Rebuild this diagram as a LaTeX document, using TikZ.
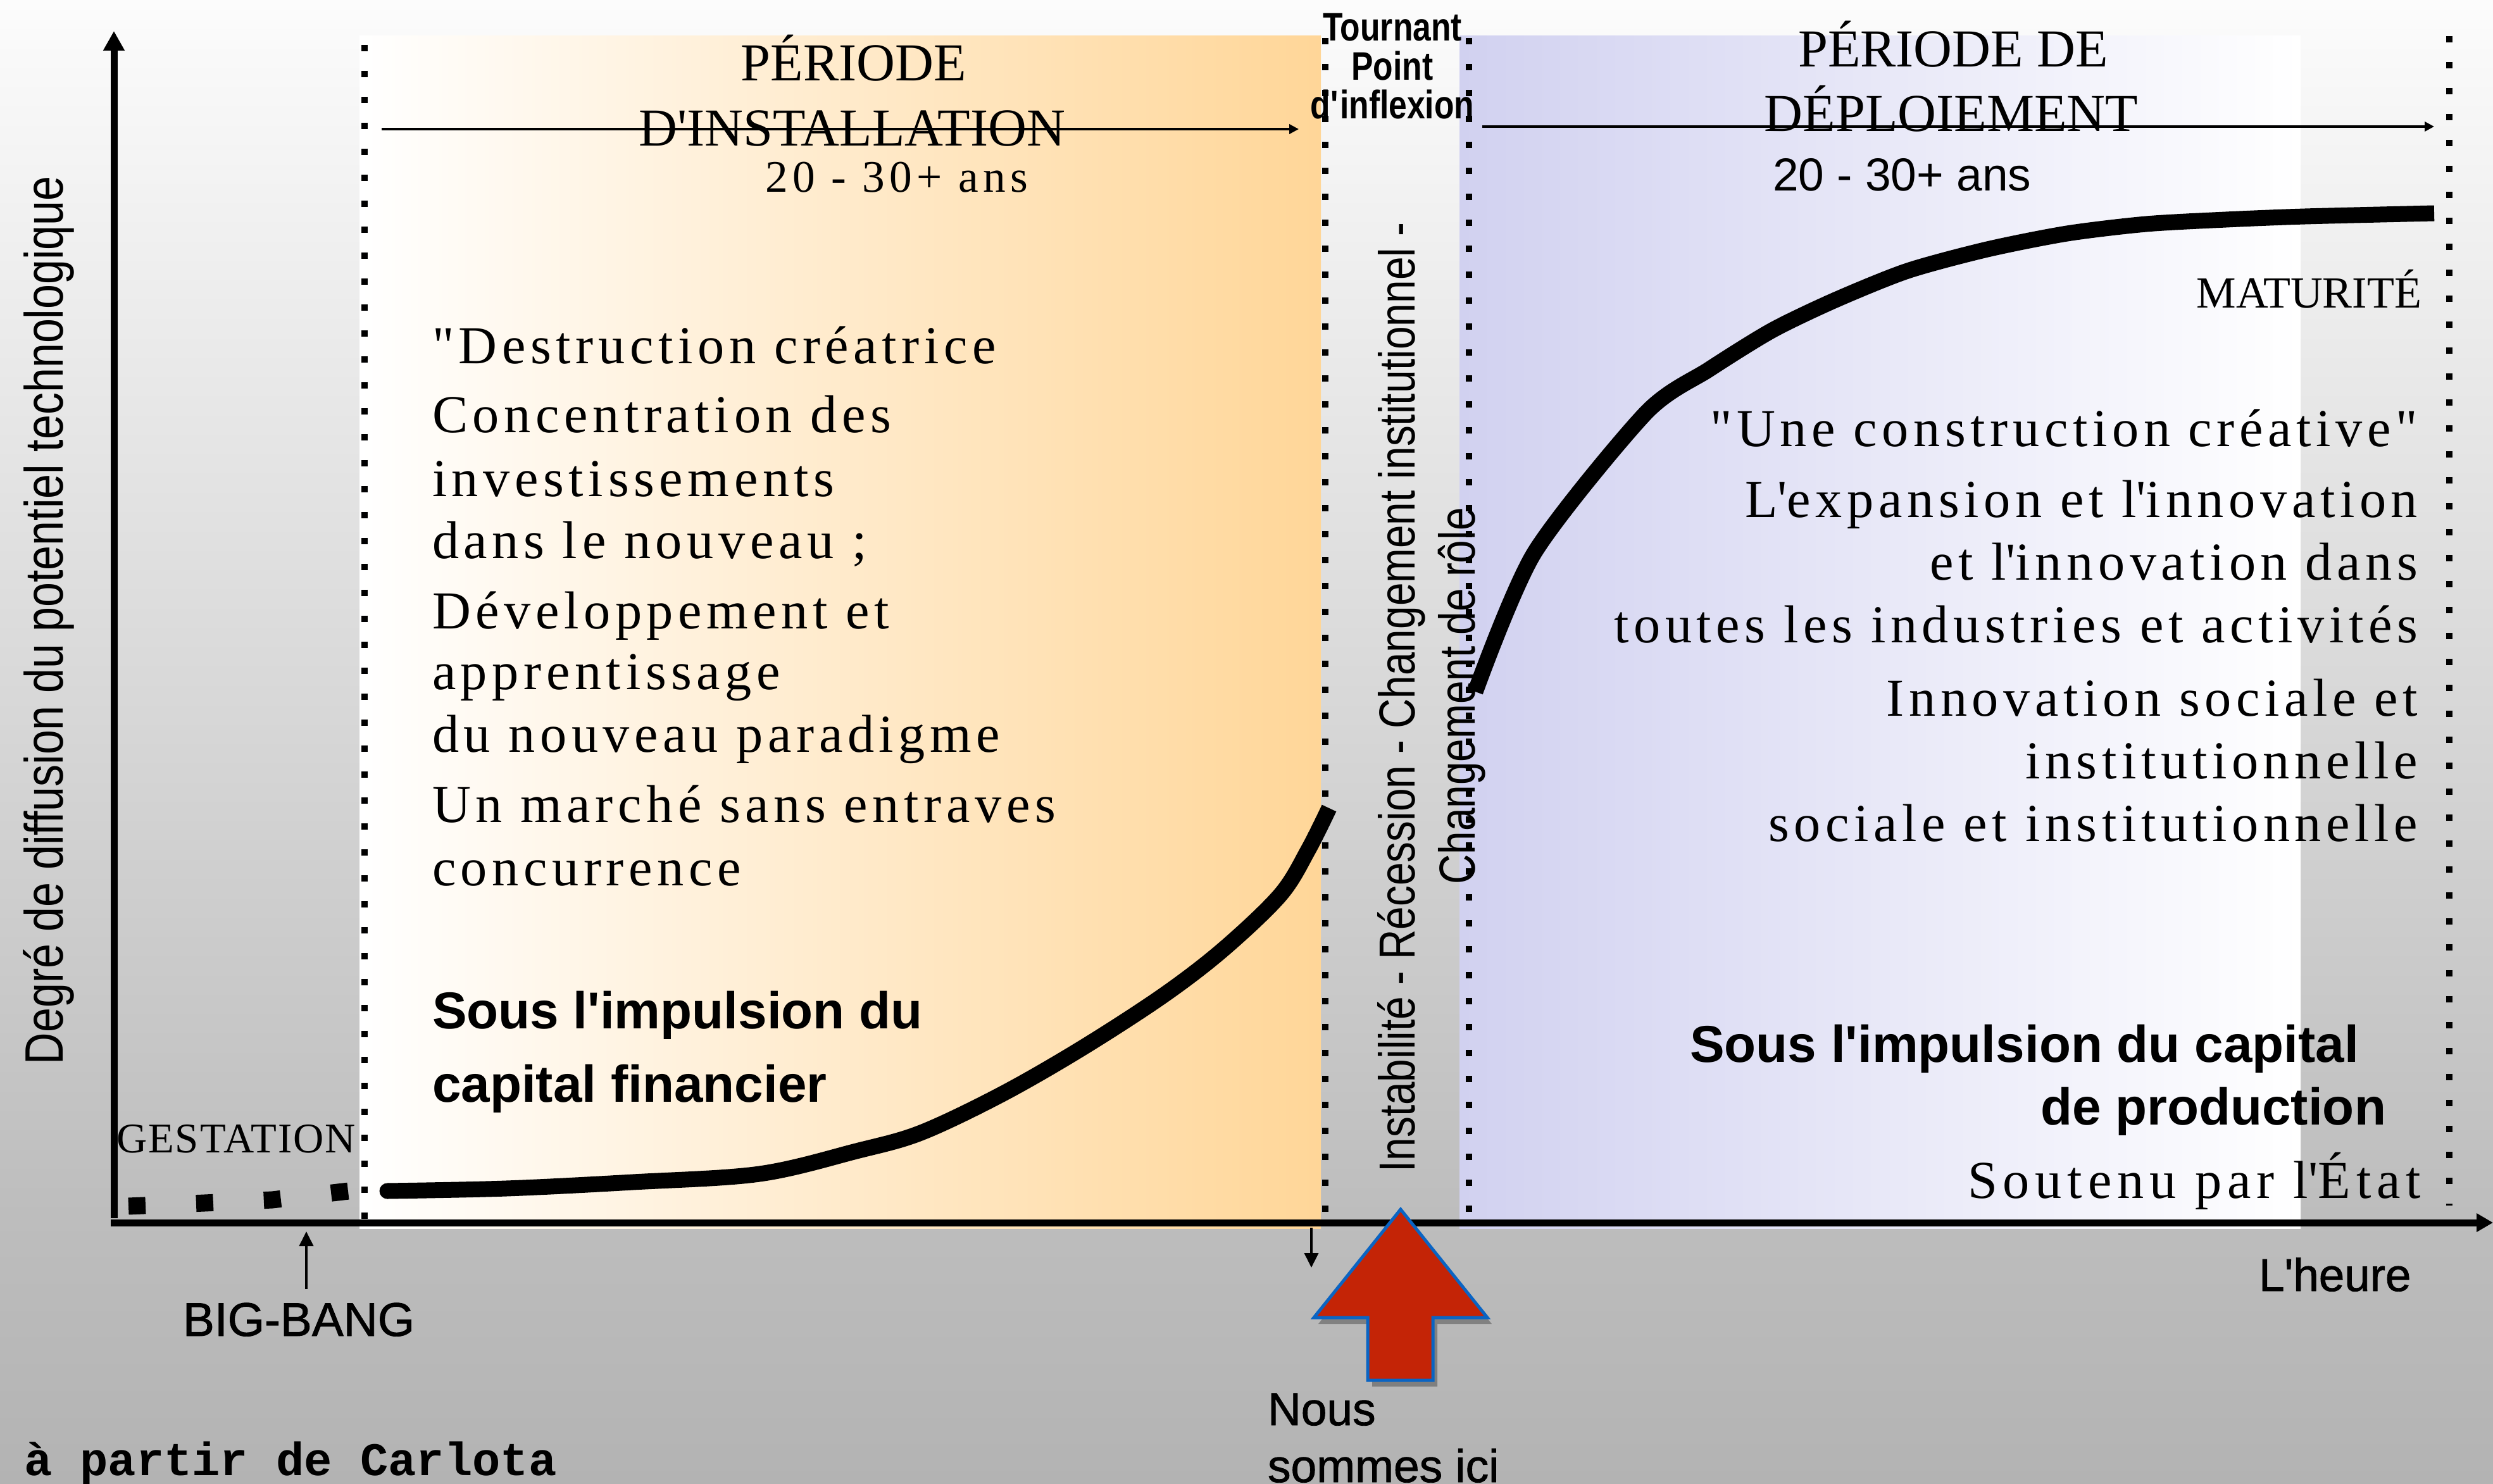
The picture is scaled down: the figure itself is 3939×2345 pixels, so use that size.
\documentclass[tikz,border=0pt]{standalone}
\usepackage{fontspec}
\setmainfont{Liberation Serif}
\newfontfamily\bodyserif[LetterSpace=9]{Liberation Serif}
\newfontfamily\wideserif[LetterSpace=10.5]{Liberation Serif}
\newfontfamily\gestserif[LetterSpace=3]{Liberation Serif}
\newfontfamily\hdserif{Liberation Serif}
\newfontfamily\narrowsans[FakeStretch=0.82]{Liberation Sans}
\newfontfamily\arialf{Liberation Sans}
\newfontfamily\arialh[FakeBold=1.2]{Liberation Sans}
\newfontfamily\monof{Liberation Mono}
\usetikzlibrary{arrows.meta}
\definecolor{bgtop}{RGB}{252,252,252}
\definecolor{bgmid}{RGB}{189,189,189}
\definecolor{bgbot}{RGB}{179,179,179}
\definecolor{orng}{RGB}{255,214,152}
\definecolor{lav}{RGB}{209,209,240}
\definecolor{redar}{RGB}{196,36,6}
\definecolor{bluear}{RGB}{10,100,195}
\pgfdeclareverticalshading{bgshade}{100bp}{color(0bp)=(bgbot); color(25bp)=(bgbot); color(34bp)=(bgmid); color(75bp)=(bgtop); color(100bp)=(bgtop)}
\newcommand\myap{\textquotesingle}
\begin{document}
\begin{tikzpicture}[x=0.1mm,y=-0.1mm,
  txt/.style={inner sep=0pt, outer sep=0pt},
  dotline/.style={line width=1mm, dash pattern=on 1mm off 3.1mm},
  thinarrow/.style={line width=0.35mm, -{Triangle[width=1.5mm,length=1.5mm]}},
  smallarrow/.style={line width=0.4mm, -{Triangle[width=2.2mm,length=2.3mm]}},
  curveline/.style={line width=2.5mm},
  body/.style={txt, font=\bodyserif\fontsize{24}{28}\selectfont},
  hd/.style={txt, font=\hdserif\fontsize{24}{28}\selectfont},
  boldsans/.style={txt, font=\arialf\bfseries\fontsize{23.3}{27}\selectfont},
  plainsans/.style={txt, font=\arialf\fontsize{20.8}{25}\selectfont},
  heavysans/.style={txt, font=\arialh\fontsize{20.8}{25}\selectfont},
  nsans/.style={txt, font=\narrowsans\fontsize{22.8}{27}\selectfont}]
\useasboundingbox (0,0) rectangle (3939,2345);
% background
\shade[shading=bgshade] (0,0) rectangle (3939,2345);
% period regions
\shade[left color=white, right color=orng] (568,57) rectangle (2087,1941);
\shade[left color=lav, right color=white] (2306,57) rectangle (3635,1941);
% dotted separators
\draw[dotline] (576,71) -- (576,1935);
\draw[dotline] (2094,60) -- (2094,1925);
\draw[dotline] (2321,60) -- (2321,1925);
\draw[dotline] (3870,57) -- (3870,1905);
% gestation dots
\draw[line width=2.7mm, dash pattern=on 2.7mm off 8mm] (203,1906) -- (323,1901) -- (430,1896) -- (551,1882);
% installation curve
\draw[curveline] plot[smooth, tension=0.55] coordinates {(612,1882) (800,1878) (1000,1868) (1200,1855) (1353,1819) (1455,1790) (1583,1729) (1710,1656) (1838,1573) (1933,1500) (2023,1414) (2067,1343) (2100,1277)};
\fill (612,1882) circle[radius=1.25mm];
% deployment curve
\draw[curveline] plot[smooth, tension=0.45] coordinates {(2331,1093) (2424,874) (2600,653) (2700,584) (2800,522) (2900,474) (3014,428) (3140,394) (3266,369) (3391,354) (3517,347) (3642,342) (3846,337)};
% axes
\coordinate (yb) at (180,1925);
\coordinate (yt) at (180,49);
\draw[line width=1.1mm, -{Triangle[width=3.2mm,length=3.1mm]}] (yb) -- (yt);
\coordinate (xl) at (175,1932);
\coordinate (xr) at (3939,1932);
\draw[line width=1.1mm, -{Triangle[width=2.8mm,length=2.6mm]}] (xl) -- (xr);
% period arrows
\coordinate (ia0) at (603,204);
\coordinate (ia1) at (2052,204);
\draw[thinarrow] (ia0) -- (ia1);
\coordinate (da0) at (2342,200);
\coordinate (da1) at (3846,200);
\draw[thinarrow] (da0) -- (da1);
% big bang arrow
\coordinate (bb0) at (484,2037);
\coordinate (bb1) at (484,1946);
\draw[smallarrow] (bb0) -- (bb1);
% down arrow
\coordinate (dn0) at (2072,1940);
\coordinate (dn1) at (2072,2003);
\draw[smallarrow] (dn0) -- (dn1);
% red arrow with shadow
\begin{scope}[shift={(7,10)}]
\fill[black, opacity=0.3] (2213,1911) -- (2350,2082) -- (2264,2082) -- (2264,2181) -- (2161,2181) -- (2161,2082) -- (2076,2082) -- cycle;
\end{scope}
\draw[fill=redar, draw=bluear, line width=0.5mm, line join=miter] (2213,1911) -- (2350,2082) -- (2264,2082) -- (2264,2181) -- (2161,2181) -- (2161,2082) -- (2076,2082) -- cycle;
% y label
\node[txt, rotate=90, anchor=base, font=\narrowsans\fontsize{24.3}{28}\selectfont] (ylab) at (99,980) {Degré de diffusion du potentiel technologique};
% left header
\node[hd, anchor=base] (ph1) at (1349,128) {PÉRIODE};
\node[hd, anchor=base] (ph2) at (1346,231) {D\myap INSTALLATION};
\node[txt, anchor=base west, font=\wideserif\fontsize{20.3}{24}\selectfont] (ph3) at (1209,304) {20 - 30+ ans};
% turning point
\node[txt, anchor=base, font=\narrowsans\bfseries\fontsize{17.9}{20}\selectfont] (t1) at (2200,65) {Tournant};
\node[txt, anchor=base, font=\narrowsans\bfseries\fontsize{17.9}{20}\selectfont] (t2) at (2200,127) {Point};
\node[txt, anchor=base, font=\narrowsans\bfseries\fontsize{17.9}{20}\selectfont] (t3) at (2200,188) {d\myap inflexion};
\node[nsans, rotate=90, anchor=base] (inst) at (2235,1102) {Instabilité - Récession - Changement institutionnel -};
\node[nsans, rotate=90, anchor=base] (chr) at (2330,1100) {Changement de rôle};
% right header
\node[hd, anchor=base] (pd1) at (3086,106) {PÉRIODE DE};
\node[hd, anchor=base] (pd2) at (3083,208) {DÉPLOIEMENT};
\node[plainsans, anchor=base west] (pd3) at (2801,302) {20 - 30+ ans};
\node[txt, anchor=base east, font=\hdserif\fontsize{20}{24}\selectfont] (mat) at (3826,487) {MATURITÉ};
% left body
\node[body, anchor=base west] (l1) at (683,575) {"Destruction créatrice};
\node[body, anchor=base west] (l2) at (683,683) {Concentration des};
\node[body, anchor=base west] (l3) at (683,784) {investissements};
\node[body, anchor=base west] (l4) at (683,882) {dans le nouveau ;};
\node[body, anchor=base west] (l5) at (683,993) {Développement et};
\node[body, anchor=base west] (l6) at (683,1089) {apprentissage};
\node[body, anchor=base west] (l7) at (683,1188) {du nouveau paradigme};
\node[body, anchor=base west] (l8) at (683,1299) {Un marché sans entraves};
\node[body, anchor=base west] (l9) at (683,1399) {concurrence};
\node[boldsans, anchor=base west] (bl1) at (683,1625) {Sous l\myap impulsion du};
\node[boldsans, anchor=base west] (bl2) at (683,1741) {capital financier};
% right body
\node[body, anchor=base east] (r1) at (3820,705) {"Une construction créative"};
\node[body, anchor=base east] (r2) at (3820,817) {L\myap expansion et l\myap innovation};
\node[body, anchor=base east] (r3) at (3820,916) {et l\myap innovation dans};
\node[body, anchor=base east] (r4) at (3820,1015) {toutes les industries et activités};
\node[body, anchor=base east] (r5) at (3820,1131) {Innovation sociale et};
\node[body, anchor=base east] (r6) at (3820,1230) {institutionnelle};
\node[body, anchor=base east] (r7) at (3820,1329) {sociale et institutionnelle};
\node[boldsans, anchor=base east] (br1) at (3727,1678) {Sous l\myap impulsion du capital};
\node[boldsans, anchor=base east] (br2) at (3770,1777) {de production};
\node[txt, anchor=base east, font=\wideserif\fontsize{24}{28}\selectfont] (r8) at (3825,1893) {Soutenu par l\myap État};
% bottom labels
\node[txt, anchor=base west, font=\gestserif\fontsize{19}{23}\selectfont] (gest) at (184,1821) {GESTATION};
\node[txt, anchor=base west, font=\arialh\fontsize{21.3}{25}\selectfont] (bigbang) at (289,2111) {BIG-BANG};
\node[txt, anchor=base west, font=\arialh\fontsize{20.7}{25}\selectfont] (heure) at (3569,2040) {L\myap heure};
\node[heavysans, anchor=base west] (nous1) at (2003,2252) {Nous};
\node[heavysans, anchor=base west] (nous2) at (2003,2342) {sommes ici};
\node[txt, anchor=base west, font=\monof\bfseries\fontsize{21}{25}\selectfont] (src) at (38,2331) {à partir de Carlota};
\end{tikzpicture}
\end{document}
